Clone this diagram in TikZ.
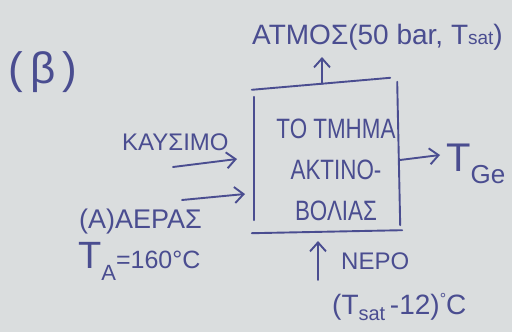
\documentclass[tikz,border=0pt]{standalone}
\usepackage{fontspec}
\setmainfont{Liberation Sans}
\newfontfamily\narrowfont[FakeStretch=0.8]{Liberation Sans}
\usetikzlibrary{arrows.meta}
\definecolor{ink}{HTML}{4A4D90}
\definecolor{paper}{HTML}{DADDDE}
\newcommand\fs[1]{\fontsize{#1}{#1}\selectfont}
\begin{document}
\begin{tikzpicture}[x=1pt,y=-1pt,
  txt/.style={text=ink, font=\fs{24}, inner sep=0pt, anchor=base west},
  pen/.style={draw=ink, line width=1.9pt, line cap=round},
  arr/.style={pen, -{Straight Barb[length=9pt,width=16pt]}}]
\fill[paper] (0,0) rectangle (512,332);
\useasboundingbox (0,0) rectangle (512,332);
% labels
\node[txt, font=\fs{44}] (beta) at (8,83) {(\,β\,)};
\node[txt, font=\fs{28}] (atm) at (252,44) {ΑΤΜΟΣ(50 bar, T{\fs{19}\raisebox{-1pt}{sat}})};
\node[txt] (fuel) at (122,150) {ΚΑΥΣΙΜΟ};
\node[txt, font=\fs{27}] (air) at (79,228) {(Α)ΑΕΡΑΣ};
\node[txt, font=\fs{38}] (ta) at (78,268) {T{\fs{22}\raisebox{-12pt}{A}}{\fs{25}=160°C}};
\node[txt] (water) at (341,269) {ΝΕΡΟ};
\node[txt, font=\fs{28}] (wt) at (332,314) {(T{\fs{20}\raisebox{-6pt}{sat}}\,-12)\raisebox{10pt}{\fs{16}°}C};
\node[txt, font=\fs{40}] (tge) at (446,171) {T{\fs{26}\raisebox{-12pt}{Ge}}};
% box
\node (box) at (326,157) [minimum width=144pt, minimum height=140pt, inner sep=0pt] {};
\node[text=ink, font={\narrowfont\fs{28}}, align=center, inner sep=0pt] (boxtxt) at (336,170)
  {ΤΟ ΤΜΗΜΑ\\[13pt]ΑΚΤΙΝΟ-\\[13pt]ΒΟΛΙΑΣ};
\draw[pen] ([shift={(-2,3)}]box.north west) -- ([shift={(-8,-9)}]box.north east);
\draw[pen] ([shift={(0,10)}]box.north west) -- ([shift={(0,-7)}]box.south west);
\draw[pen] ([shift={(-1,-5)}]box.north east) -- ([shift={(2,-2)}]box.south east);
\draw[pen] ([shift={(-2,6)}]box.south west) -- ([shift={(4,3)}]box.south east);
% arrows
\coordinate (up0) at (322,84);
\coordinate (up1) at (322,57);
\draw[arr] (up0) -- (up1);
\coordinate (f0) at (173,167);
\coordinate (f1) at (237,159);
\draw[arr] (f0) -- (f1);
\coordinate (a0) at (182,200);
\coordinate (a1) at (245,194);
\draw[arr] (a0) -- (a1);
\coordinate (o0) at (400,160);
\coordinate (o1) at (440,155);
\draw[arr] (o0) -- (o1);
\coordinate (w0) at (318,280);
\coordinate (w1) at (318,241);
\draw[arr] (w0) -- (w1);
\end{tikzpicture}
\end{document}
